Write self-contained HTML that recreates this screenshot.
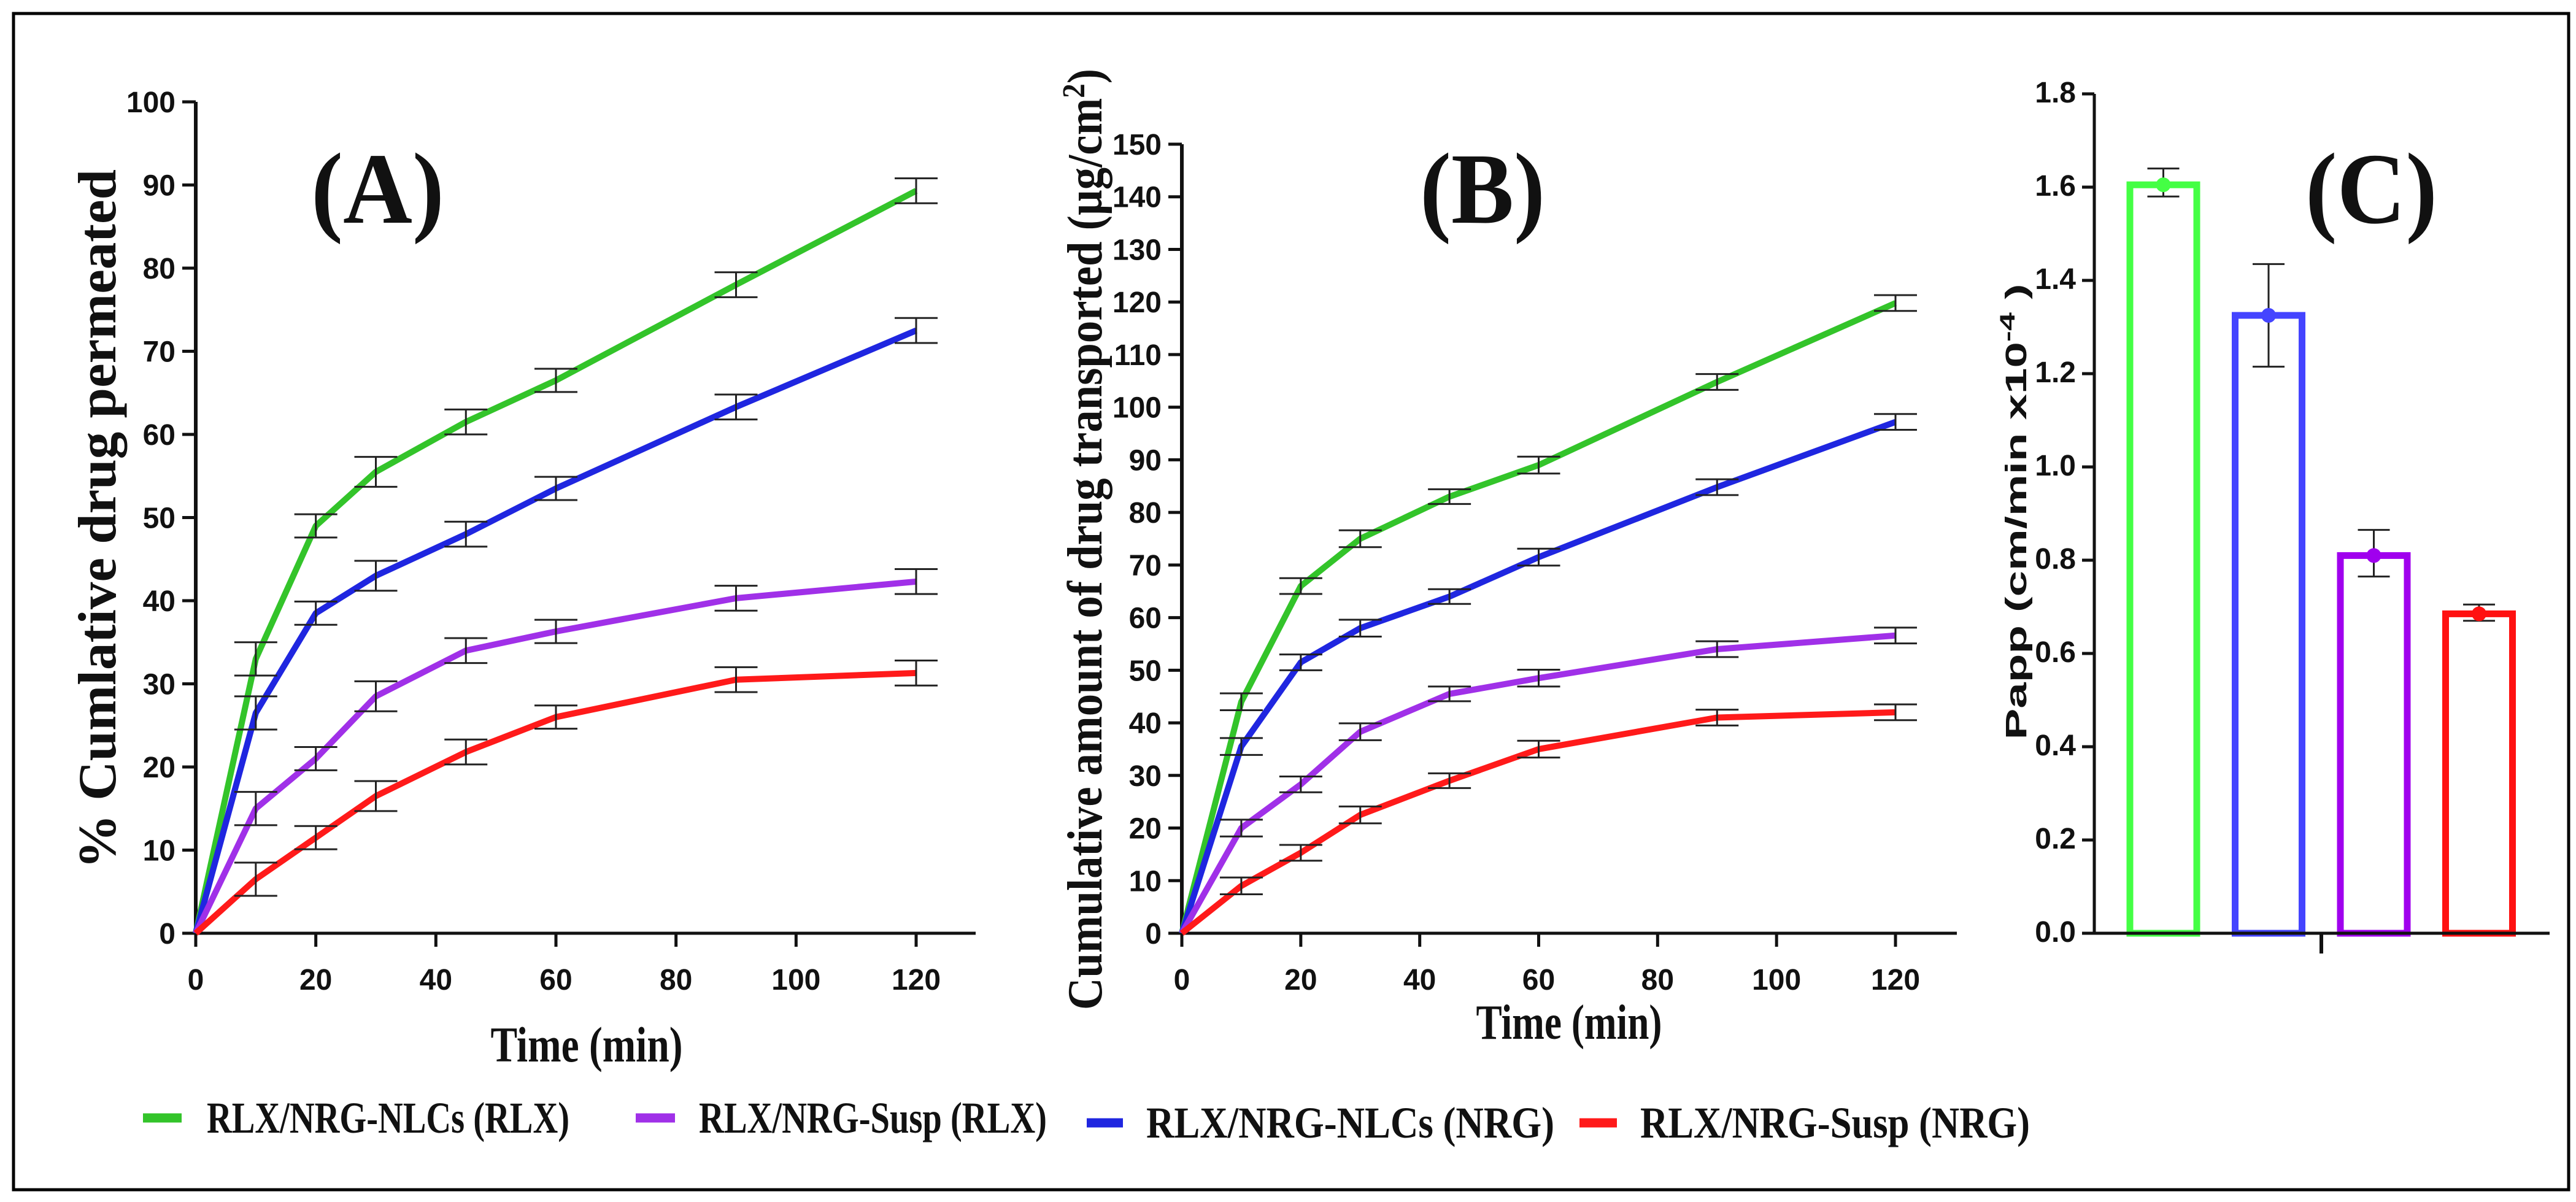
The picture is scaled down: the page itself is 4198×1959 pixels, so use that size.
<!DOCTYPE html>
<html><head><meta charset="utf-8"><style>
html,body{margin:0;padding:0;background:#fff}
svg{display:block}
.tk{font-family:"Liberation Sans",sans-serif;font-weight:bold;font-size:48px;fill:#111}
.sr{font-family:"Liberation Serif",serif;font-weight:bold;fill:#111}
</style></head><body>
<svg id="fig" width="4198" height="1959" viewBox="0 0 4198 1959" xmlns="http://www.w3.org/2000/svg">
<rect x="22" y="22" width="4164" height="1917" fill="#fff" stroke="#000" stroke-width="5"/>
<g id="gA"></g>
<g id="gB"></g>
<g id="gC"></g>
<g id="leg">
<line x1="233" y1="1822" x2="296" y2="1822" stroke="#33c42a" stroke-width="15"/>
<text x="337" y="1846" class="sr" font-size="72" textLength="591" lengthAdjust="spacingAndGlyphs">RLX/NRG-NLCs (RLX)</text>
<line x1="1036" y1="1822" x2="1100" y2="1822" stroke="#a030e8" stroke-width="15"/>
<text x="1139" y="1846" class="sr" font-size="72" textLength="567" lengthAdjust="spacingAndGlyphs">RLX/NRG-Susp (RLX)</text>
<line x1="1771" y1="1830" x2="1830" y2="1830" stroke="#1f26e0" stroke-width="15"/>
<text x="1868" y="1854" class="sr" font-size="72" textLength="665" lengthAdjust="spacingAndGlyphs">RLX/NRG-NLCs (NRG)</text>
<line x1="2574" y1="1830" x2="2635" y2="1830" stroke="#ff1a1a" stroke-width="15"/>
<text x="2673" y="1854" class="sr" font-size="72" textLength="635" lengthAdjust="spacingAndGlyphs">RLX/NRG-Susp (NRG)</text>
</g>
</svg>
<script>
const times = [0,10,20,30,45,60,90,120];
const aGreen = [0,33,49,55.5,61.5,66.5,78,89.3];
const aBlue = [0,26.5,38.5,43,48,53.5,63.3,72.5];
const aPurple = [0,15,21,28.5,34,36.3,40.3,42.3];
const aRed = [0,6.5,11.5,16.5,21.8,26,30.5,31.3];
const aErr = [0,2,1.4,1.8,1.5,1.4,1.5,1.5];
const bGreen = [0,44,66,75,83,89,104.8,119.8];
const bBlue = [0,35.5,51.5,58,64,71.5,84.8,97.2];
const bPurple = [0,20,28.3,38.3,45.5,48.5,54,56.6];
const bRed = [0,9,15.3,22.5,29,35,41,42];
const bErr = [0,1.6,1.5,1.6,1.4,1.6,1.5,1.5];
const xTicks = [0,20,40,60,80,100,120];
const aYTicks = [0,10,20,30,40,50,60,70,80,90,100];
const bYTicks = [0,10,20,30,40,50,60,70,80,90,100,110,120,130,140,150];
const cCats = ['RLX/NRG-NLCs (RLX)','RLX/NRG-NLCs (NRG)','RLX/NRG-Susp (RLX)','RLX/NRG-Susp (NRG)'];
const cVals = [1.605,1.325,0.81,0.685];
const cLo = [1.58,1.215,0.765,0.67];
const cHi = [1.64,1.435,0.865,0.705];
const cYTicks = [0.0,0.2,0.4,0.6,0.8,1.0,1.2,1.4,1.6,1.8];
const COLORS = ['#33c42a','#1f26e0','#a030e8','#ff1a1a'];
const CCOLORS = ['#44ff44','#4444ff','#a000ee','#ff1111'];
const NS='http://www.w3.org/2000/svg';
function mk(p,tag,attrs,txt){const e=document.createElementNS(NS,tag);for(const k in attrs)e.setAttribute(k,attrs[k]);if(txt!==undefined)e.textContent=txt;p.appendChild(e);return e;}

function linePanel(g,cfg,series,err,yTicks,names){
  const X=v=>cfg.x0+(v-0)/120*(cfg.x120-cfg.x0);
  const Y=v=>cfg.y0-v/cfg.ymax*(cfg.y0-cfg.ytop);
  let ax=mk(g,'line',{x1:cfg.x0,y1:cfg.y0,x2:cfg.xend,y2:cfg.y0,stroke:'#111','stroke-width':5});
  
  
  let ay=mk(g,'line',{x1:cfg.x0,y1:cfg.y0+2,x2:cfg.x0,y2:cfg.ytop,stroke:'#111','stroke-width':6});
  
  
  xTicks.forEach(t=>{
    let l=mk(g,'line',{x1:X(t),y1:cfg.y0,x2:X(t),y2:cfg.y0+22,stroke:'#111','stroke-width':5});
    
    
    let tx=mk(g,'text',{x:X(t),y:cfg.y0+92,'text-anchor':'middle',class:'tk'},String(t));
    
    
  });
  yTicks.forEach(t=>{
    let l=mk(g,'line',{x1:cfg.x0-22,y1:Y(t),x2:cfg.x0,y2:Y(t),stroke:'#111','stroke-width':5});
    
    
    let tx=mk(g,'text',{x:cfg.x0-33,y:Y(t)+17,'text-anchor':'end',class:'tk'},String(t));
    
    
  });
  series.forEach((s,i)=>{
    const pts=s.map((v,j)=>X(times[j])+','+Y(v)).join(' ');
    let pl=mk(g,'polyline',{points:pts,fill:'none',stroke:COLORS[i],'stroke-width':10,'stroke-linejoin':'round'});
    
    
  });
  series.forEach((s,i)=>{
    s.forEach((v,j)=>{
      if(j===0)return;
      const x=X(times[j]),y1=Y(v+err[j]),y2=Y(v-err[j]);
      let eb=mk(g,'path',{d:`M${x-35},${y1}H${x+35}M${x},${y1}V${y2}M${x-35},${y2}H${x+35}`,stroke:'#222','stroke-width':3,fill:'none'});
      
      
    });
  });
}
const names=['nlcs-rlx','nlcs-nrg','susp-rlx','susp-nrg'];
const gA=document.getElementById('gA');
linePanel(gA,{x0:319,x120:1493,xend:1590,y0:1521,ytop:166,ymax:100},[aGreen,aBlue,aPurple,aRed],aErr,aYTicks,names);
mk(gA,'text',{x:507,y:363,class:'sr','font-size':165,textLength:217,lengthAdjust:'spacingAndGlyphs',},'(A)');
mk(gA,'text',{x:0,y:0,class:'sr','font-size':88,textLength:1140,lengthAdjust:'spacingAndGlyphs','text-anchor':'middle',transform:'translate(188,846) rotate(-90)',},'% Cumlative drug permeated');
mk(gA,'text',{x:956,y:1730,class:'sr','font-size':82,textLength:313,lengthAdjust:'spacingAndGlyphs','text-anchor':'middle',},'Time (min)');

const gB=document.getElementById('gB');
linePanel(gB,{x0:1926,x120:3089,xend:3189,y0:1521,ytop:235,ymax:150},[bGreen,bBlue,bPurple,bRed],bErr,bYTicks,names);
mk(gB,'text',{x:2314,y:363,class:'sr','font-size':165,textLength:204,lengthAdjust:'spacingAndGlyphs',},'(B)');
const yt=mk(gB,'text',{x:0,y:0,class:'sr','font-size':80,textLength:1534,lengthAdjust:'spacingAndGlyphs','text-anchor':'middle',transform:'translate(1795,879) rotate(-90)',},'Cumulative amount of drug transported (µg/cm');
mk(yt,'tspan',{'baseline-shift':'super','font-size':52},'2');
mk(yt,'tspan',{},')');
mk(gB,'text',{x:2557,y:1693,class:'sr','font-size':80,textLength:303,lengthAdjust:'spacingAndGlyphs','text-anchor':'middle',},'Time (min)');

// Panel C
const gC=document.getElementById('gC');
const cx0=3413,cy0=1521,cytop=153,cymax=1.8;
const CY=v=>cy0-v/cymax*(cy0-cytop);
const barX=i=>3471+i*171.5;
const barW=109;
cCats.forEach((c,i)=>{
  const x=barX(i);
  let r=mk(gC,'rect',{x:x,y:CY(cVals[i]),width:barW,height:cy0-CY(cVals[i]),fill:'#fff',stroke:CCOLORS[i],'stroke-width':11});
  
  
});
let cax=mk(gC,'line',{x1:cx0,y1:cy0,x2:4155,y2:cy0,stroke:'#111','stroke-width':5});


let cay=mk(gC,'line',{x1:cx0,y1:cy0+2,x2:cx0,y2:cytop,stroke:'#111','stroke-width':5});


let cmt=mk(gC,'line',{x1:3783,y1:cy0,x2:3783,y2:cy0+33,stroke:'#111','stroke-width':6});


cYTicks.forEach(t=>{
  let l=mk(gC,'line',{x1:cx0-20,y1:CY(t),x2:cx0,y2:CY(t),stroke:'#111','stroke-width':5});
  
  
  let tx=mk(gC,'text',{x:cx0-30,y:CY(t)+14,'text-anchor':'end',class:'tk','font-size':40},t.toFixed(1));
  
  
});
cCats.forEach((c,i)=>{
  const x=barX(i)+barW/2;
  let eb=mk(gC,'path',{d:`M${x-26},${CY(cHi[i])}H${x+26}M${x},${CY(cHi[i])}V${CY(cLo[i])}M${x-26},${CY(cLo[i])}H${x+26}`,stroke:'#222','stroke-width':3,fill:'none'});
  
  
  let d=mk(gC,'circle',{cx:x,cy:CY(cVals[i]),r:12,fill:CCOLORS[i]});
  
  
});
mk(gC,'text',{x:3757,y:363,class:'sr','font-size':165,textLength:215,lengthAdjust:'spacingAndGlyphs',},'(C)');
const ct=mk(gC,'text',{x:0,y:0,class:'tk','font-size':50,textLength:743,lengthAdjust:'spacingAndGlyphs','text-anchor':'middle',transform:'translate(3302,834) rotate(-90)',},'Papp (cm/min x10');
mk(ct,'tspan',{'baseline-shift':'super','font-size':34},'-4');
mk(ct,'tspan',{},' )');
</script>
</body></html>
